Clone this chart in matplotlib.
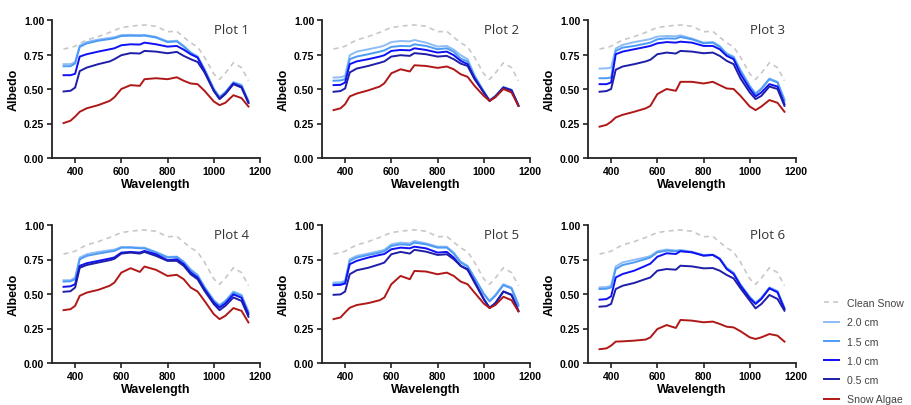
import matplotlib.pyplot as plt
from matplotlib import font_manager

wavelength = [350, 380, 400, 420, 450, 500, 550, 570, 600, 640, 680, 700, 750,
              800, 840, 870, 900, 930, 960, 1000, 1025, 1050, 1085, 1120, 1150]

clean_snow = [0.79, 0.80, 0.81, 0.83, 0.855, 0.88, 0.91, 0.925, 0.945, 0.955, 0.962, 0.964, 0.955,
              0.915, 0.918, 0.875, 0.835, 0.805, 0.73, 0.61, 0.57, 0.615, 0.69, 0.655, 0.56]

# plot 1
p1_algae = [0.253, 0.27, 0.30, 0.335, 0.36, 0.383, 0.414, 0.44, 0.50, 0.528, 0.523, 0.571, 0.578,
            0.571, 0.585, 0.56, 0.54, 0.535, 0.487, 0.41, 0.383, 0.40, 0.455, 0.434, 0.373]
p1_05 = [0.482, 0.487, 0.51, 0.63, 0.655, 0.68, 0.70, 0.716, 0.745, 0.76, 0.757, 0.776, 0.771,
         0.759, 0.769, 0.74, 0.716, 0.696, 0.62, 0.487, 0.427, 0.463, 0.535, 0.51, 0.40]
p1_10 = [0.60, 0.60, 0.61, 0.735, 0.752, 0.771, 0.788, 0.795, 0.817, 0.824, 0.822, 0.836, 0.824,
         0.807, 0.812, 0.785, 0.752, 0.728, 0.63, 0.487, 0.43, 0.467, 0.54, 0.515, 0.40]
p1_15 = [0.665, 0.665, 0.685, 0.805, 0.83, 0.85, 0.862, 0.868, 0.884, 0.886, 0.885, 0.887, 0.873,
         0.84, 0.845, 0.808, 0.762, 0.733, 0.64, 0.50, 0.44, 0.475, 0.545, 0.525, 0.41]
p1_20 = [0.68, 0.68, 0.695, 0.815, 0.84, 0.858, 0.87, 0.875, 0.891, 0.893, 0.89, 0.892, 0.878,
         0.845, 0.85, 0.812, 0.766, 0.737, 0.645, 0.503, 0.443, 0.478, 0.55, 0.53, 0.415]

# plot 2
p2_algae = [0.347, 0.36, 0.39, 0.446, 0.467, 0.49, 0.518, 0.542, 0.614, 0.643, 0.627, 0.672, 0.667,
            0.653, 0.663, 0.643, 0.607, 0.588, 0.523, 0.45, 0.414, 0.44, 0.50, 0.475, 0.378]
p2_05 = [0.48, 0.485, 0.504, 0.62, 0.648, 0.667, 0.69, 0.70, 0.735, 0.745, 0.74, 0.76, 0.752,
         0.735, 0.74, 0.716, 0.684, 0.667, 0.571, 0.475, 0.414, 0.445, 0.51, 0.49, 0.378]
p2_10 = [0.528, 0.53, 0.547, 0.68, 0.70, 0.716, 0.735, 0.745, 0.776, 0.783, 0.78, 0.795, 0.783,
         0.764, 0.771, 0.745, 0.704, 0.68, 0.58, 0.475, 0.414, 0.445, 0.51, 0.49, 0.38]
p2_15 = [0.56, 0.562, 0.571, 0.716, 0.735, 0.752, 0.771, 0.78, 0.805, 0.812, 0.81, 0.824, 0.812,
         0.788, 0.795, 0.77, 0.72, 0.70, 0.59, 0.48, 0.416, 0.447, 0.512, 0.492, 0.38]
p2_20 = [0.583, 0.585, 0.595, 0.745, 0.771, 0.788, 0.805, 0.815, 0.84, 0.848, 0.845, 0.855, 0.836,
         0.807, 0.812, 0.785, 0.745, 0.716, 0.60, 0.485, 0.418, 0.45, 0.515, 0.495, 0.382]

# plot 3
p3_algae = [0.227, 0.24, 0.263, 0.294, 0.313, 0.335, 0.36, 0.378, 0.463, 0.50, 0.487, 0.552, 0.552,
            0.54, 0.552, 0.528, 0.504, 0.50, 0.45, 0.373, 0.347, 0.373, 0.42, 0.40, 0.335]
p3_05 = [0.48, 0.485, 0.50, 0.64, 0.663, 0.68, 0.70, 0.712, 0.752, 0.764, 0.757, 0.776, 0.771,
         0.759, 0.764, 0.74, 0.704, 0.68, 0.576, 0.475, 0.427, 0.45, 0.518, 0.50, 0.378]
p3_10 = [0.535, 0.535, 0.547, 0.752, 0.771, 0.788, 0.805, 0.812, 0.831, 0.84, 0.836, 0.843, 0.836,
         0.812, 0.812, 0.788, 0.74, 0.716, 0.607, 0.50, 0.446, 0.475, 0.535, 0.518, 0.39]
p3_15 = [0.578, 0.578, 0.583, 0.776, 0.80, 0.812, 0.829, 0.836, 0.86, 0.867, 0.865, 0.877, 0.86,
         0.831, 0.836, 0.805, 0.752, 0.728, 0.63, 0.518, 0.463, 0.50, 0.571, 0.547, 0.414]
p3_20 = [0.648, 0.65, 0.655, 0.793, 0.82, 0.84, 0.855, 0.862, 0.88, 0.884, 0.882, 0.889, 0.865,
         0.836, 0.84, 0.812, 0.759, 0.735, 0.638, 0.523, 0.467, 0.504, 0.576, 0.552, 0.426]

# plot 4
p4_algae = [0.383, 0.39, 0.414, 0.487, 0.51, 0.53, 0.56, 0.583, 0.655, 0.687, 0.66, 0.699, 0.675,
            0.631, 0.639, 0.607, 0.547, 0.518, 0.45, 0.354, 0.318, 0.342, 0.398, 0.378, 0.294]
p4_05 = [0.516, 0.52, 0.547, 0.69, 0.71, 0.728, 0.745, 0.755, 0.793, 0.80, 0.793, 0.805, 0.776,
         0.74, 0.74, 0.704, 0.643, 0.607, 0.523, 0.427, 0.383, 0.414, 0.475, 0.45, 0.335]
p4_10 = [0.552, 0.556, 0.571, 0.704, 0.723, 0.74, 0.757, 0.765, 0.80, 0.805, 0.80, 0.812, 0.788,
         0.745, 0.752, 0.716, 0.655, 0.619, 0.535, 0.439, 0.402, 0.431, 0.497, 0.473, 0.352]
p4_15 = [0.59, 0.592, 0.607, 0.752, 0.776, 0.793, 0.807, 0.812, 0.836, 0.836, 0.831, 0.831, 0.80,
         0.764, 0.769, 0.73, 0.672, 0.631, 0.547, 0.45, 0.414, 0.446, 0.51, 0.487, 0.366]
p4_20 = [0.60, 0.60, 0.619, 0.764, 0.788, 0.805, 0.817, 0.822, 0.84, 0.84, 0.836, 0.836, 0.805,
         0.769, 0.771, 0.735, 0.679, 0.639, 0.552, 0.455, 0.42, 0.45, 0.518, 0.494, 0.373]

# plot 5
p5_algae = [0.318, 0.33, 0.366, 0.40, 0.42, 0.434, 0.455, 0.475, 0.571, 0.631, 0.607, 0.667, 0.663,
            0.643, 0.655, 0.631, 0.59, 0.571, 0.51, 0.431, 0.398, 0.42, 0.48, 0.455, 0.373]
p5_05 = [0.494, 0.497, 0.518, 0.643, 0.672, 0.69, 0.716, 0.728, 0.788, 0.805, 0.793, 0.82, 0.807,
         0.783, 0.788, 0.752, 0.704, 0.675, 0.583, 0.463, 0.40, 0.43, 0.518, 0.494, 0.378]
p5_10 = [0.564, 0.566, 0.576, 0.716, 0.74, 0.764, 0.783, 0.79, 0.824, 0.836, 0.831, 0.843, 0.831,
         0.80, 0.805, 0.764, 0.704, 0.68, 0.59, 0.463, 0.40, 0.435, 0.518, 0.494, 0.378]
p5_15 = [0.571, 0.573, 0.588, 0.74, 0.764, 0.783, 0.80, 0.81, 0.848, 0.86, 0.855, 0.872, 0.86,
         0.836, 0.836, 0.793, 0.728, 0.699, 0.615, 0.499, 0.446, 0.487, 0.564, 0.54, 0.414]
p5_20 = [0.583, 0.585, 0.595, 0.752, 0.776, 0.793, 0.812, 0.82, 0.86, 0.872, 0.867, 0.884, 0.867,
         0.843, 0.843, 0.80, 0.735, 0.704, 0.619, 0.504, 0.451, 0.494, 0.571, 0.547, 0.426]

# plot 6
p6_algae = [0.10, 0.106, 0.126, 0.155, 0.157, 0.162, 0.17, 0.186, 0.246, 0.275, 0.254, 0.312, 0.307,
            0.295, 0.30, 0.283, 0.263, 0.258, 0.23, 0.186, 0.174, 0.186, 0.21, 0.198, 0.155]
p6_05 = [0.408, 0.412, 0.428, 0.536, 0.56, 0.58, 0.609, 0.62, 0.669, 0.681, 0.676, 0.705, 0.70,
         0.686, 0.688, 0.669, 0.638, 0.613, 0.541, 0.452, 0.396, 0.427, 0.493, 0.464, 0.379]
p6_10 = [0.459, 0.463, 0.483, 0.62, 0.645, 0.669, 0.705, 0.72, 0.77, 0.795, 0.79, 0.81, 0.802,
         0.778, 0.783, 0.754, 0.681, 0.645, 0.56, 0.469, 0.428, 0.464, 0.541, 0.512, 0.391]
p6_15 = [0.536, 0.538, 0.548, 0.681, 0.71, 0.729, 0.754, 0.765, 0.802, 0.814, 0.81, 0.814, 0.802,
         0.778, 0.783, 0.754, 0.686, 0.65, 0.565, 0.476, 0.432, 0.469, 0.543, 0.517, 0.396]
p6_20 = [0.548, 0.55, 0.56, 0.70, 0.729, 0.748, 0.766, 0.775, 0.81, 0.822, 0.815, 0.819, 0.807,
         0.783, 0.786, 0.759, 0.691, 0.655, 0.57, 0.48, 0.437, 0.474, 0.548, 0.522, 0.401]

plots = [
    ('Plot 1', p1_20, p1_15, p1_10, p1_05, p1_algae),
    ('Plot 2', p2_20, p2_15, p2_10, p2_05, p2_algae),
    ('Plot 3', p3_20, p3_15, p3_10, p3_05, p3_algae),
    ('Plot 4', p4_20, p4_15, p4_10, p4_05, p4_algae),
    ('Plot 5', p5_20, p5_15, p5_10, p5_05, p5_algae),
    ('Plot 6', p6_20, p6_15, p6_10, p6_05, p6_algae),
]

labels = ['Clean Snow', '2.0 cm', '1.5 cm', '1.0 cm', '0.5 cm', 'Snow Algae']
colors = ['#c8c8c8', '#8ebcf7', '#4c9bf5', '#1010f5', '#1e1ea8', '#b01818']


def find_font(weight):
    # pick plain Liberation Sans (not the Narrow variant)
    for f in font_manager.fontManager.ttflist:
        if f.name == 'Liberation Sans' and f.weight == weight and f.style == 'normal' \
                and 'Narrow' not in f.fname:
            return font_manager.FontProperties(fname=f.fname)
    return font_manager.FontProperties(family='DejaVu Sans', weight=weight)


bold = find_font(700)
regular = find_font(400)

fig = plt.figure(figsize=(9.11, 4.06), dpi=100)
lefts = [52 / 911, 322 / 911, 588 / 911]
bottoms = [1 - 159 / 406, 1 - 364 / 406]
w, h = 208 / 911, 138 / 406

for i, (title, s20, s15, s10, s05, algae) in enumerate(plots):
    ax = fig.add_axes([lefts[i % 3], bottoms[i // 3], w, h])
    ax.plot(wavelength, clean_snow, color=colors[0], lw=1.2, ls=(0, (3, 2.5)), label=labels[0])
    for ys, c, lab in zip([s20, s15, s10, s05, algae], colors[1:], labels[1:]):
        ax.plot(wavelength, ys, color=c, lw=1.4, label=lab)
    ax.set_xlim(300, 1200)
    ax.set_ylim(0, 1)
    ax.set_xticks([400, 600, 800, 1000, 1200])
    ax.set_yticks([0, 0.25, 0.5, 0.75, 1.0])
    ax.set_yticklabels(['0.00', '0.25', '0.50', '0.75', '1.00'])
    for sp in ['top', 'right']:
        ax.spines[sp].set_visible(False)
    for sp in ['left', 'bottom']:
        ax.spines[sp].set_linewidth(1.3)
        ax.spines[sp].set_color('#222222')
    ax.tick_params(width=1.2, length=3.5, pad=2, color='#222222')
    for t in ax.get_xticklabels() + ax.get_yticklabels():
        t.set_fontproperties(bold)
        t.set_fontsize(7.5)
    ax.set_xlabel('Wavelength', fontproperties=bold, fontsize=9, labelpad=2)
    ax.set_ylabel('Albedo', fontproperties=bold, fontsize=9, labelpad=3)
    ax.text(0.865, 0.93, title, transform=ax.transAxes, ha='center', va='center',
            fontsize=9.5, family=['Open Sans', 'DejaVu Sans'], color='#333333')

handles, labs = ax.get_legend_handles_labels()
leg_font = regular.copy()
leg_font.set_size(7.6)
leg = fig.legend(handles, labs, loc='lower left', bbox_to_anchor=(814 / 911, -0.022),
                 frameon=False, prop=leg_font, handlelength=1.5, labelspacing=0.88,
                 handletextpad=0.7)
for t in leg.get_texts():
    t.set_color('#444444')

fig.savefig('out.png', dpi=100)
